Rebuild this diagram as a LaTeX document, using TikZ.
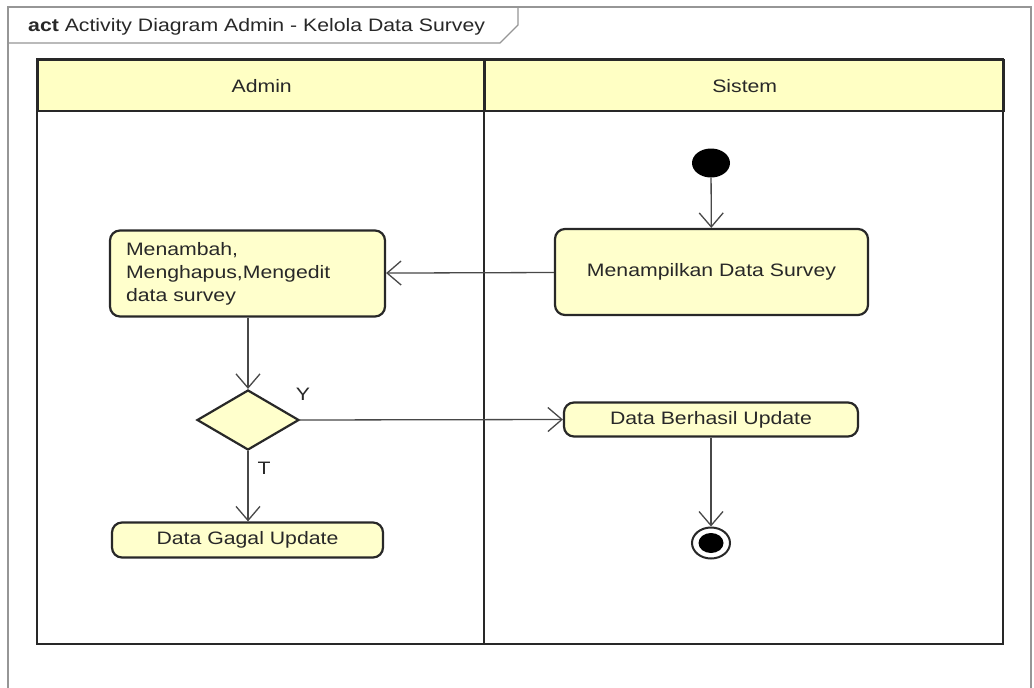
\documentclass[tikz,border=0pt]{standalone}
\usepackage{fontspec}
\setmainfont{Liberation Sans}[FakeStretch=1.18]
\usetikzlibrary{arrows.meta,shapes.geometric}
\definecolor{actfill}{RGB}{255,255,204}
\definecolor{headfill}{RGB}{255,255,196}
\definecolor{ink}{RGB}{40,40,40}
\definecolor{framegray}{RGB}{150,150,150}
\tikzset{
  lane/.style={draw=ink, line width=2.4pt},
  header/.style={draw=ink, line width=2.4pt, fill=headfill, minimum height=51pt, inner sep=0pt, font=\fontsize{18}{22}\selectfont, text=ink},
  action/.style={draw=ink, line width=2.2pt, fill=actfill, rounded corners=10pt, inner sep=0pt, font=\fontsize{18}{23}\selectfont, text=ink},
  decision/.style={diamond, draw=ink, line width=2.2pt, fill=actfill, inner sep=0pt, minimum width=102pt, minimum height=60pt, aspect=1.7},
  flow/.style={draw=ink!85, line width=1.3pt, -{Straight Barb[length=14pt,width=24pt,line width=1.3pt]}},
  guard/.style={font=\fontsize{18}{22}\selectfont, text=ink, inner sep=0pt},
  startnode/.style={ellipse, fill=black, minimum width=38pt, minimum height=29pt, inner sep=0pt},
  endnode/.style={ellipse, draw=ink, line width=2pt, fill=white, minimum width=38pt, minimum height=31pt, inner sep=0pt},
}
\begin{document}
\begin{tikzpicture}[x=1pt,y=-1pt]
\useasboundingbox (0,0) rectangle (1034,688);
\fill[white] (0,0) rectangle (1034,688);

% diagram frame and its name tab
\draw[framegray, line width=1.3pt] (8,690) -- (8,7) -- (1031,7) -- (1031,690);
\draw[framegray, line width=1.3pt] (8,43) -- (500,43) -- (518,25) -- (518,7);
\node[anchor=west, inner sep=0pt, font=\fontsize{18}{22}\selectfont, text=ink] (title) at (28,27)
  {\textbf{act} Activity Diagram Admin - Kelola Data Survey};

% swimlanes
\node[header, minimum width=447pt, anchor=north west] (hadmin) at (37,59) {Admin};
\node[header, minimum width=519pt, anchor=north west] (hsistem) at (484,59) {Sistem};
\draw[lane] (37,59) rectangle (1003,644);
\draw[lane] (484,59) -- (484,644);

% activity nodes
\node[startnode] (start) at (711,163) {};
\node[action, minimum width=313pt, minimum height=86pt] (tampil) at (711.5,272) {Menampilkan Data Survey};
\node[action, text width=243pt, inner xsep=16pt, minimum height=86pt, align=left] (kelola) at (247.5,273.5)
  {Menambah,\\Menghapus,Mengedit\\data survey};
\node[decision] (cek) at (248,420) {};
\node[action, minimum width=294pt, minimum height=34pt] (berhasil) at (711,419.5) {Data Berhasil Update};
\node[action, minimum width=271pt, minimum height=35pt] (gagal) at (247.5,540) {Data Gagal Update};
\node[endnode] (end) at (711,543) {};
\node[ellipse, fill=black, minimum width=25pt, minimum height=20pt, inner sep=0pt] (endcore) at (end.center) {};

% guards
\node[guard] (gy) at (303,394) {Y};
\node[guard] (gt) at (264,468) {T};

% control flows
\draw[flow] (start) -- (tampil);
\draw[flow] (tampil) -- (kelola);
\draw[flow] (kelola.south -| cek.north) -- (cek.north);
\draw[flow] (cek.east) -- (berhasil.west);
\draw[flow] (cek.south) -- (gagal.north -| cek.south);
\draw[flow] (berhasil) -- (end);
\end{tikzpicture}
\end{document}
